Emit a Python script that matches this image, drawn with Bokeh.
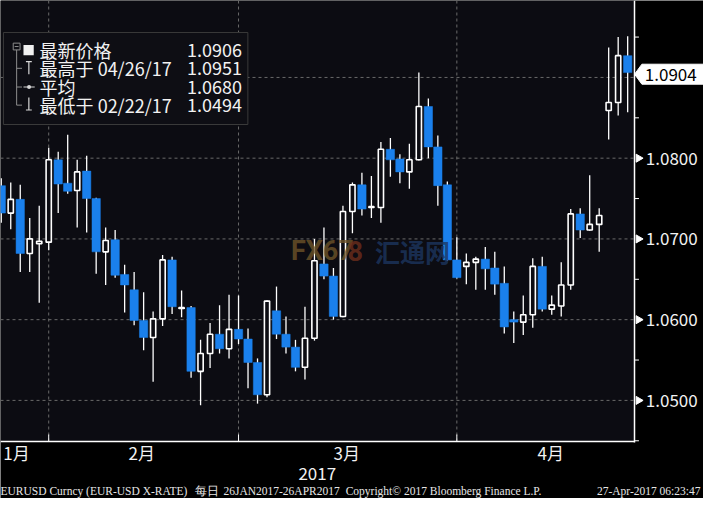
import math
from bokeh.plotting import figure
from bokeh.models import Range1d, Label, ColumnDataSource
from bokeh.core.properties import value
from bokeh.embed import file_html
from bokeh.resources import INLINE

# ---------------- data (EURUSD daily, 24 Jan 2017 - 26 Apr 2017, trading-day index) -------------
OPEN = [1.0766, 1.0732, 1.0749, 1.0682, 1.0694, 1.0696, 1.0798, 1.0769, 1.0760, 1.0784,
        1.0750, 1.0684, 1.0699, 1.0656, 1.0637, 1.0599, 1.0578, 1.0601, 1.0674, 1.0614,
        1.0615, 1.0536, 1.0558, 1.0582, 1.0564, 1.0588, 1.0576, 1.0547, 1.0507, 1.0611,
        1.0582, 1.0566, 1.0541, 1.0577, 1.0669, 1.0654, 1.0604, 1.0734, 1.0767, 1.0739,
        1.0739, 1.0811, 1.0799, 1.0783, 1.0798, 1.0864, 1.0814, 1.0767, 1.0674, 1.0666,
        1.0671, 1.0675, 1.0664, 1.0645, 1.0600, 1.0597, 1.0606, 1.0666, 1.0613, 1.0617,
        1.0643, 1.0731, 1.0711, 1.0718, 1.0859, 1.0869, 1.0927]
HIGH = [1.0775, 1.0770, 1.0767, 1.0726, 1.0741, 1.0813, 1.0808, 1.0829, 1.0798, 1.0803,
        1.0751, 1.0714, 1.0711, 1.0668, 1.0659, 1.0634, 1.0610, 1.0680, 1.0678, 1.0636,
        1.0617, 1.0575, 1.0596, 1.0618, 1.0631, 1.0630, 1.0589, 1.0552, 1.0624, 1.0641,
        1.0604, 1.0575, 1.0616, 1.0700, 1.0714, 1.0664, 1.0741, 1.0770, 1.0782, 1.0778,
        1.0820, 1.0825, 1.0805, 1.0818, 1.0906, 1.0874, 1.0828, 1.0771, 1.0702, 1.0682,
        1.0678, 1.0690, 1.0684, 1.0666, 1.0610, 1.0630, 1.0676, 1.0678, 1.0630, 1.0671,
        1.0737, 1.0738, 1.0779, 1.0738, 1.0937, 1.0950, 1.0951]
LOW = [1.0720, 1.0712, 1.0659, 1.0659, 1.0621, 1.0686, 1.0732, 1.0756, 1.0714, 1.0708,
       1.0657, 1.0643, 1.0652, 1.0609, 1.0593, 1.0562, 1.0523, 1.0592, 1.0607, 1.0603,
       1.0528, 1.0494, 1.0540, 1.0558, 1.0552, 1.0570, 1.0515, 1.0496, 1.0504, 1.0576,
       1.0558, 1.0536, 1.0526, 1.0574, 1.0650, 1.0600, 1.0603, 1.0707, 1.0729, 1.0726,
       1.0720, 1.0777, 1.0769, 1.0762, 1.0797, 1.0800, 1.0741, 1.0673, 1.0651, 1.0644,
       1.0637, 1.0637, 1.0631, 1.0583, 1.0571, 1.0581, 1.0590, 1.0610, 1.0606, 1.0604,
       1.0637, 1.0701, 1.0710, 1.0684, 1.0823, 1.0853, 1.0857]
CLOSE = [1.0732, 1.0749, 1.0682, 1.0700, 1.0697, 1.0798, 1.0768, 1.0759, 1.0783, 1.0750,
         1.0684, 1.0698, 1.0655, 1.0643, 1.0599, 1.0578, 1.0601, 1.0674, 1.0616, 1.0615,
         1.0536, 1.0558, 1.0582, 1.0564, 1.0588, 1.0576, 1.0547, 1.0507, 1.0623, 1.0582,
         1.0566, 1.0541, 1.0577, 1.0673, 1.0654, 1.0604, 1.0734, 1.0767, 1.0737, 1.0740,
         1.0811, 1.0798, 1.0783, 1.0798, 1.0864, 1.0814, 1.0766, 1.0674, 1.0652, 1.0671,
         1.0675, 1.0663, 1.0644, 1.0591, 1.0597, 1.0606, 1.0666, 1.0613, 1.0618, 1.0643,
         1.0731, 1.0711, 1.0718, 1.0729, 1.0869, 1.0927, 1.0906]

MONTH_LABELS = ["1月", "2月", "3月", "4月"]
MONTH_LABEL_POS = [1.6, 14.8, 36.4, 57.9]
MONTH_ENDS = [5, 25, 48]
Y_TICKS = [1.05, 1.06, 1.07, 1.08]
Y_GRID = [1.05, 1.06, 1.07, 1.08, 1.09]
Y_MINOR = [1.045, 1.055, 1.065, 1.075, 1.085, 1.095]
YEAR_LABEL = "2017"
LEGEND_NAMES = ["最新价格", "最高于 04/26/17", "平均", "最低于 02/22/17"]
LEGEND_VALUES = [1.0906, 1.0951, 1.0680, 1.0494]
LAST_PRICE = 1.0904
FOOTER_PARTS = ["EURUSD Curncy (EUR-USD X-RATE)", "每日", "26JAN2017-26APR2017",
                "Copyright\u00a9 2017 Bloomberg Finance L.P.", "27-Apr-2017 06:23:47"]

# ---------------- layout helpers ----------------
W, H = 703, 498            # canvas
PW, PH = 634, 441          # plotting area (left/top aligned)
X0, X1 = -0.08, 66.72      # data x at plot-area edges
Y0, Y1 = 1.04491, 1.09953  # data y at plot-area edges
SX, SY = W / 719, H / 514
BG = "#0c0c12"
BLUE = "#1a80ec"
TXT = "#f2f2f2"
CJK = "Noto Sans CJK SC"

XR_END = X0 + W / PW * (X1 - X0)
YR_START = Y1 - H / PH * (Y1 - Y0)


def px(rx):
    return X0 + rx * SX / PW * (X1 - X0)


def py(ry):
    return Y1 - ry * SY / PH * (Y1 - Y0)


def dpy(n):  # n pixels as a y-data distance
    return n / PH * (Y1 - Y0)


p = figure(width=W, height=H, x_range=Range1d(X0, XR_END), y_range=Range1d(YR_START, Y1),
           x_axis_location=None, y_axis_location=None, output_backend="svg",
           toolbar_location=None, min_border=0, background_fill_color="black",
           border_fill_color="black", outline_line_color=None)
p.grid.visible = False

# plot-area background
p.quad(left=[X0], right=[X1], bottom=[Y0], top=[Y1], fill_color=BG, line_color=None)

# grid lines
p.segment(x0=MONTH_ENDS, y0=[Y0] * len(MONTH_ENDS), x1=MONTH_ENDS, y1=[Y1] * len(MONTH_ENDS),
          line_color="#6a6a6a", line_dash="3 3", line_width=1)
p.segment(x0=[X0] * len(Y_GRID), y0=Y_GRID, x1=[X1] * len(Y_GRID), y1=Y_GRID,
          line_color="#6a6a6a", line_dash="3 3", line_width=1)

# ---------------- legend box (behind candles) ----------------
p.quad(left=[px(3)], right=[px(253)], top=[py(33)], bottom=[py(128)],
       fill_color="#0e0e14", line_color="#3a3a3a", line_width=1)

# ---------------- candles ----------------
idx = list(range(len(OPEN)))
up = [i for i in idx if CLOSE[i] >= OPEN[i]]
dn = [i for i in idx if CLOSE[i] < OPEN[i]]
p.segment(x0=idx, y0=LOW, x1=idx, y1=HIGH, line_color="white", line_width=1.3)
src_up = ColumnDataSource(dict(x=up, top=[CLOSE[i] for i in up], bottom=[OPEN[i] for i in up]))
src_dn = ColumnDataSource(dict(x=dn, top=[OPEN[i] for i in dn], bottom=[CLOSE[i] for i in dn]))
p.vbar(x="x", top="top", bottom="bottom", width=0.88, source=src_dn,
       fill_color=BLUE, line_color=BLUE, line_width=0.5)
p.vbar(x="x", top="top", bottom="bottom", width=0.55, source=src_up,
       fill_color=BG, line_color="white", line_width=1.6)

# ---------------- axes (drawn by hand on the full-canvas frame) ----------------
p.segment(x0=[X1, X0], y0=[Y0 - dpy(1), Y0], x1=[X1, X1], y1=[Y1, Y0],
          line_color="white", line_width=1.5)
p.segment(x0=[X1] * len(Y_MINOR), y0=Y_MINOR, x1=[px(653)] * len(Y_MINOR), y1=Y_MINOR,
          line_color="white", line_width=1)
p.scatter(x=[px(652.5)] * len(Y_TICKS), y=Y_TICKS, marker="triangle", angle=-math.pi / 2,
          size=8, fill_color="white", line_color="white")
p.text(x=[px(660)] * len(Y_TICKS), y=Y_TICKS, text=[f"{t:.4f}" for t in Y_TICKS],
       text_color=TXT, text_font=value(CJK), text_font_size="17px",
       text_baseline="middle", text_align="left")

# month ticks and labels
p.segment(x0=MONTH_ENDS, y0=[Y0] * len(MONTH_ENDS), x1=MONTH_ENDS,
          y1=[Y0 + dpy(7)] * len(MONTH_ENDS), line_color="white", line_width=1)
p.text(x=MONTH_LABEL_POS, y=[py(467)] * len(MONTH_LABEL_POS), text=MONTH_LABELS,
       text_color=TXT, text_font=value(CJK), text_font_size="17px",
       text_baseline="middle", text_align="center")
p.add_layout(Label(x=px(324), y=py(488), text=YEAR_LABEL, text_color=TXT, text_font=CJK,
                   text_font_size="17px", text_baseline="middle", text_align="center"))

# last price marker
p.patch(x=[px(648.5), px(656), px(719), px(719), px(656)],
        y=[LAST_PRICE, LAST_PRICE + dpy(10), LAST_PRICE + dpy(10),
           LAST_PRICE - dpy(10), LAST_PRICE - dpy(10)],
        fill_color="white", line_color="white")
p.text(x=[px(659)], y=[LAST_PRICE], text=[f"{LAST_PRICE:.4f}"], text_color="black",
       text_font=value(CJK), text_font_size="17px", text_baseline="middle",
       text_align="left")

# ---------------- legend decorations ----------------
TREE = "#8c8c8c"
tree = [(16.5, 51, 16.5, 108), (16.5, 70, 22, 70), (16.5, 89.3, 22, 89.3), (16.5, 108, 22, 108),
        (14.5, 47.5, 18.5, 47.5)]
p.segment(x0=[px(a) for a, b, c, d in tree], y0=[py(b) for a, b, c, d in tree],
          x1=[px(c) for a, b, c, d in tree], y1=[py(d) for a, b, c, d in tree],
          line_color=TREE, line_width=1)
p.quad(left=[px(13)], right=[px(20)], top=[py(44)], bottom=[py(51)],
       fill_color=None, line_color=TREE, line_width=1)
p.quad(left=[px(23.5)], right=[px(34)], top=[py(46)], bottom=[py(56.5)],
       fill_color="#f0f0f0", line_color=None)
icons = [(26, 63, 32, 63), (29, 63, 29, 76), (23.5, 89.3, 35, 89.3),
         (29, 100, 29, 113), (26, 113, 32, 113)]
p.segment(x0=[px(a) for a, b, c, d in icons], y0=[py(b) for a, b, c, d in icons],
          x1=[px(c) for a, b, c, d in icons], y1=[py(d) for a, b, c, d in icons],
          line_color="#d8d8d8", line_width=1.2)
p.scatter(x=[px(29.2)], y=[py(89.3)], size=4, marker="circle",
          fill_color="#d8d8d8", line_color=None)

rows_y = [50.7, 70, 89.3, 108.3]
for name, val, ry in zip(LEGEND_NAMES, LEGEND_VALUES, rows_y):
    p.add_layout(Label(x=px(40), y=py(ry), text=name, text_color=TXT,
                       text_font=CJK, text_font_size="18px", text_baseline="middle",
                       text_align="left"))
    p.add_layout(Label(x=px(247), y=py(ry), text=f"{val:.4f}", text_color=TXT,
                       text_font=CJK, text_font_size="18px", text_baseline="middle",
                       text_align="right"))

# ---------------- watermark ----------------
p.add_layout(Label(x=px(297), y=py(259), text="FX67", text_color="#6e5428", text_alpha=0.8,
                   text_font="Roboto", text_font_style="bold", text_font_size="27px",
                   text_baseline="middle", text_align="left"))
p.add_layout(Label(x=px(355), y=py(259), text="8", text_color="#6e2e1c", text_alpha=0.8,
                   text_font="Roboto", text_font_style="bold", text_font_size="27px",
                   text_baseline="middle", text_align="left"))
p.add_layout(Label(x=px(383), y=py(259), text="汇通网", text_color="#1c3660", text_alpha=0.8,
                   text_font=CJK, text_font_style="bold", text_font_size="25px",
                   text_baseline="middle", text_align="left"))

# ---------------- footer ----------------
FOOTER_X = [0, 199, 228, 353, 610]
for part, fx in zip(FOOTER_PARTS, FOOTER_X):
    p.add_layout(Label(x=px(fx), y=py(506), text=part, text_color="#e6e6e6",
                       text_font="Liberation Serif", text_font_size="11.5px",
                       text_baseline="middle", text_align="left"))

open("out.html", "w").write(file_html(p, INLINE))
